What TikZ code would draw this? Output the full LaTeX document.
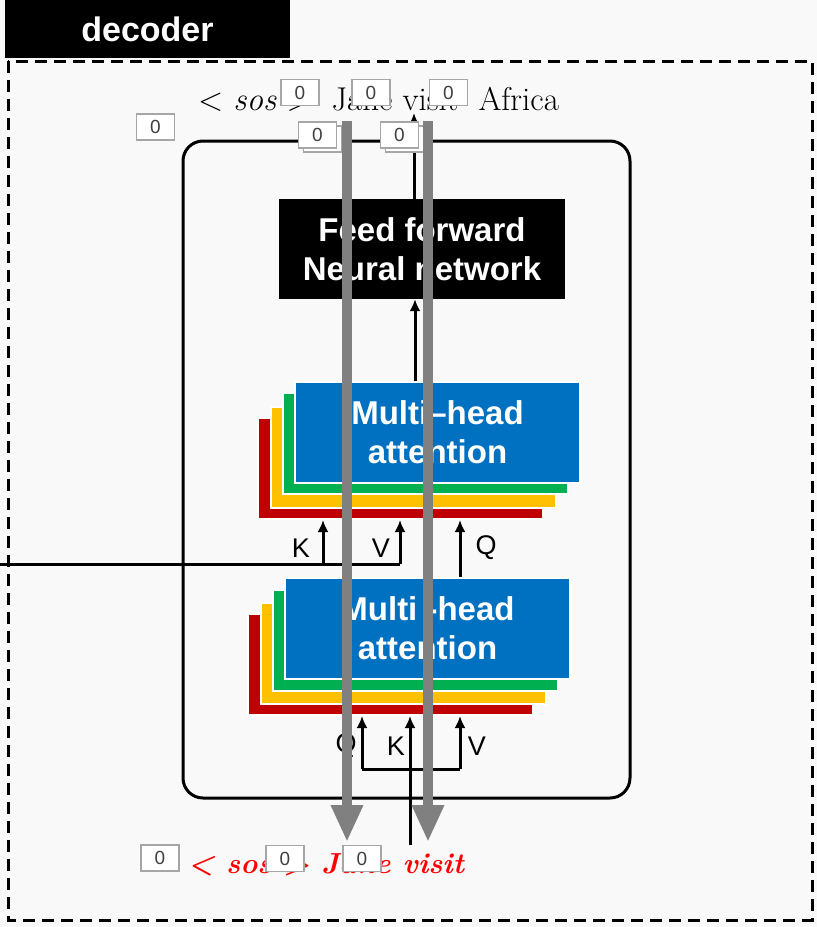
\documentclass[tikz,border=0pt]{standalone}
\usepackage{fontspec}
\newfontfamily\hsans{Liberation Sans}
\usetikzlibrary{arrows.meta}
\definecolor{bgc}{RGB}{249,249,249}
\definecolor{cred}{RGB}{192,0,0}
\definecolor{cyel}{RGB}{255,192,0}
\definecolor{cgrn}{RGB}{0,176,80}
\definecolor{cblu}{RGB}{0,112,192}
\definecolor{cgray}{RGB}{128,128,128}
\definecolor{zbord}{RGB}{166,166,166}
\definecolor{ztxt}{RGB}{64,64,64}
\definecolor{inred}{RGB}{255,0,0}
\begin{document}
\begin{tikzpicture}[x=1pt,y=-1pt,
  layer/.style={draw=white,line width=2pt,minimum width=285pt,minimum height=101pt,inner sep=0pt},
  blk/.style={fill=black,text=white,font=\hsans\bfseries\fontsize{33}{39}\selectfont,align=center,inner sep=0pt},
  arr/.style={line width=3pt,-{Latex[length=12pt,width=11pt]}},
  garr/.style={line width=10pt,cgray,-{Triangle[length=37pt,width=30pt]}},
  lbl/.style={font=\hsans\fontsize{27}{30}\selectfont,inner sep=0pt},
  zbox/.style={draw=zbord,line width=1.3pt,fill=white,minimum width=38pt,minimum height=26pt,inner sep=0pt,text=ztxt,font=\hsans\fontsize{19}{20}\selectfont}
]
\fill[bgc] (0,0) rectangle (817,927);
\useasboundingbox (0,0) rectangle (817,927);

% decoder label
\node[blk,font=\hsans\bfseries\fontsize{34}{36}\selectfont,minimum width=285pt,minimum height=58pt] (dec) at (147.5,29) {decoder};

% outer dashed frame
\draw[line width=3pt,dash pattern=on 12pt off 7pt] (8,61) rectangle (812,920);

% inner rounded frame
\draw[line width=3pt,rounded corners=20pt] (183,141) rectangle (630,798);

% feed forward
\node[blk,minimum width=286pt,minimum height=100pt] (ffn) at (422,249) {Feed forward\\Neural network};

% upper multi-head attention stack
\node[layer,fill=cred] (redU) at (400.5,468.5) {};
\node[layer,fill=cyel] (yelU) at (413,457.5) {};
\node[layer,fill=cgrn] (grnU) at (425.5,443.5) {};
\node[layer,fill=cblu,text=white,align=center,font=\hsans\bfseries\fontsize{33}{39}\selectfont] (mhaU) at (437.5,432.5) {Multi–head\\attention};

% lower multi-head attention stack
\node[layer,fill=cred] (redL) at (390.5,664.5) {};
\node[layer,fill=cyel] (yelL) at (403,653.5) {};
\node[layer,fill=cgrn] (grnL) at (415.5,640.5) {};
\node[layer,fill=cblu,text=white,align=center,font=\hsans\bfseries\fontsize{33}{39}\selectfont] (mhaL) at (427.5,628.5) {Multi -head\\attention};

% texts
\node[anchor=base west,inner sep=0pt,font=\fontsize{33}{36}\selectfont] (out) at (198,110) {< \textit{sos} >\ \ Jane visit\ \ Africa};
\node[anchor=base west,inner sep=0pt,text=inred,font=\bfseries\itshape\fontsize{29}{34}\selectfont] (inp) at (188,873) {< sos >\ Jane visit};

% encoder input to upper attention (K, V)
\coordinate (encL) at (0,564);
\coordinate (encK) at (323,564);
\coordinate (encV) at (400,564);
\draw[line width=3pt] (encL) -- (encV);
\draw[arr] (encK) -- (encK |- redU.south);
\draw[arr] (encV) -- (encV |- redU.south);
\coordinate (qU) at (460,0);
\draw[arr] (qU |- mhaL.north) -- (qU |- redU.south);
\node[lbl] (lK) at (301,548) {K};
\node[lbl] (lV) at (381,548) {V};
\node[lbl] (lQ) at (486,548) {Q};

% upper attention to ffn, ffn to output
\coordinate (mx) at (415,0);
\draw[arr] (mx |- mhaU.north) -- (mx |- ffn.south);
\coordinate (vis) at (414,113);
\draw[arr] (vis |- ffn.north) -- (vis);

% lower attention inputs
\coordinate (kbot) at (410,845);
\coordinate (brQ) at (362,769);
\coordinate (brV) at (460,769);
\draw[line width=3pt] (brQ) -- (brV);
\draw[arr] (kbot) -- (kbot |- redL.south);
\draw[arr] (brQ) -- (brQ |- redL.south);
\draw[arr] (brV) -- (brV |- redL.south);
\node[lbl] (lQ2) at (346,746) {Q};
\node[lbl] (lK2) at (396,746) {K};
\node[lbl] (lV2) at (477,746) {V};

% zero boxes
\node[zbox] (z1) at (155.5,127) {0};
\node[zbox] (z2) at (300,92.5) {0};
\node[zbox] (z3) at (371,92.5) {0};
\node[zbox] (z4) at (448.5,92.5) {0};
\node[zbox] (z5b) at (322.5,139) {0};
\node[zbox] (z5) at (317.5,135) {0};
\node[zbox] (z6b) at (404.5,139) {0};
\node[zbox] (z6) at (399.5,135) {0};
\node[zbox] (z7) at (160,858) {0};
\node[zbox] (z8) at (285,858.5) {0};
\node[zbox] (z9) at (362,858.5) {0};

% gray residual arrows
\coordinate (g1t) at (347,121);
\coordinate (g1b) at (347,842);
\coordinate (g2t) at (428,121);
\coordinate (g2b) at (428,842);
\draw[garr] (g1t) -- (g1b);
\draw[garr] (g2t) -- (g2b);
\end{tikzpicture}
\end{document}
